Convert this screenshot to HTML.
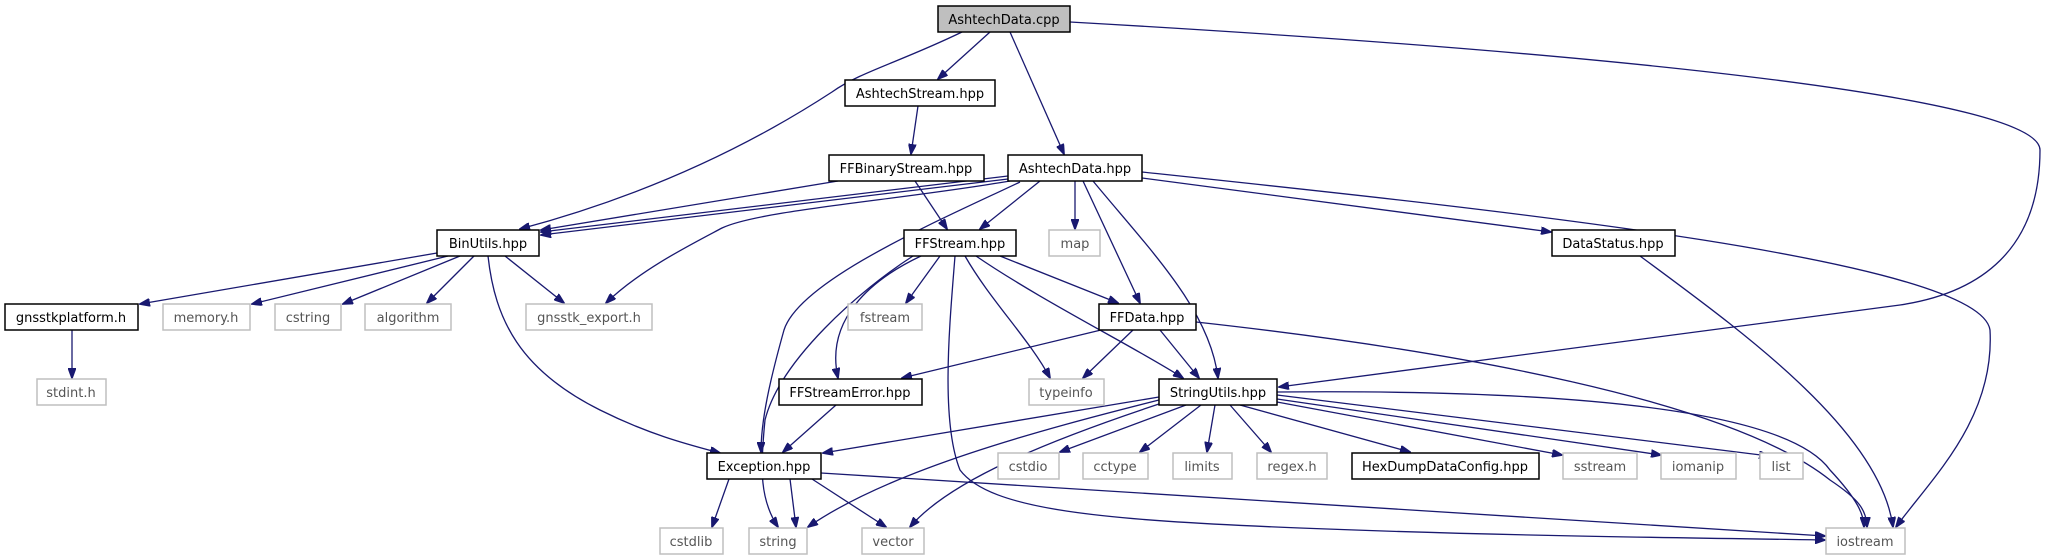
<!DOCTYPE html>
<html><head><meta charset="utf-8"><style>
html,body{margin:0;padding:0;background:#fff;width:2048px;height:560px;overflow:hidden}
svg{display:block}
text{font-family:"DejaVu Sans","Liberation Sans",sans-serif;font-size:13px;fill:#000}
.e{fill:none;stroke:#191970;stroke-width:1.3;marker-end:url(#a)}
.d{fill:#fff;stroke:#000;stroke-width:1.5}
.l{fill:#fff;stroke:#bfbfbf;stroke-width:1.5}
.lt{fill:#555}
</style></head><body>
<svg width="2048" height="560" viewBox="0 0 2048 560" xmlns="http://www.w3.org/2000/svg">
<defs><marker id="a" markerWidth="11" markerHeight="8" refX="10" refY="4" orient="auto" markerUnits="userSpaceOnUse"><polygon points="0,0 11,4 0,8" fill="#191970" stroke="#191970"/></marker></defs>

<!-- edges -->
<path class="e" d="M962,32 C900,62 860,72 832,92 C720,165 610,205 520,229"/>
<path class="e" d="M990,32 L938,79"/>
<path class="e" d="M1010,32 L1064,154"/>
<path class="e" d="M1070,22 C1650,55 2040,100 2040,150 C2040,250 1980,293 1900,305 L1279,387"/>
<path class="e" d="M918,106 L911,154"/>
<path class="e" d="M838,181 L541,230"/>
<path class="e" d="M915,181 L947,229"/>
<path class="e" d="M1008,176 L541,232"/>
<path class="e" d="M1008,179 L541,235"/>
<path class="e" d="M1010,181 C900,200 760,210 722,228 C690,245 640,270 606,303"/>
<path class="e" d="M1020,182 C940,220 800,280 784,330 C770,380 761,420 761,452"/>
<path class="e" d="M1040,181 L980,229"/>
<path class="e" d="M1075,181 L1075,229"/>
<path class="e" d="M1083,181 L1140,303"/>
<path class="e" d="M1093,181 C1150,250 1210,310 1218,378"/>
<path class="e" d="M1142,178 L1551,232"/>
<path class="e" d="M1142,172 C1500,210 1980,260 1990,330 C1995,420 1930,480 1896,527"/>
<path class="e" d="M437,253 L140,304"/>
<path class="e" d="M448,256 L252,304"/>
<path class="e" d="M460,256 L343,304"/>
<path class="e" d="M474,256 L427,303"/>
<path class="e" d="M505,256 L564,303"/>
<path class="e" d="M488,256 C495,320 520,370 600,410 C650,435 690,445 720,453"/>
<path class="e" d="M72,330 L72,378"/>
<path class="e" d="M921,256 C870,280 825,320 838,378"/>
<path class="e" d="M913,256 C860,290 780,360 765,420 C760,470 760,500 778,527"/>
<path class="e" d="M940,256 L906,303"/>
<path class="e" d="M965,256 C990,300 1030,340 1050,378"/>
<path class="e" d="M1000,256 L1118,303"/>
<path class="e" d="M976,256 C1040,300 1140,350 1183,378"/>
<path class="e" d="M955,256 C950,320 940,420 960,470 C990,510 1100,520 1300,528 C1500,536 1700,538 1825,540"/>
<path class="e" d="M836,405 L783,452"/>
<path class="e" d="M1101,330 L902,378"/>
<path class="e" d="M1133,330 L1083,378"/>
<path class="e" d="M1160,330 L1199,378"/>
<path class="e" d="M1196,322 C1450,350 1730,400 1830,480 C1860,500 1866,510 1867,527"/>
<path class="e" d="M1159,397 L823,453"/>
<path class="e" d="M1159,400 C1040,430 890,470 808,527"/>
<path class="e" d="M1162,403 C1050,440 950,480 910,527"/>
<path class="e" d="M1186,405 L1060,452"/>
<path class="e" d="M1201,405 L1140,452"/>
<path class="e" d="M1215,405 L1207,452"/>
<path class="e" d="M1230,405 L1271,452"/>
<path class="e" d="M1240,405 L1410,452"/>
<path class="e" d="M1277,402 L1562,455"/>
<path class="e" d="M1277,399 L1661,455"/>
<path class="e" d="M1277,395 L1769,456"/>
<path class="e" d="M1277,392 C1500,390 1780,400 1830,470 C1858,500 1864,515 1864,527"/>
<path class="e" d="M821,473 L1825,536"/>
<path class="e" d="M729,479 L712,527"/>
<path class="e" d="M790,479 L796,527"/>
<path class="e" d="M812,479 L886,527"/>
<path class="e" d="M1640,256 C1740,330 1880,430 1893,527"/>

<!-- nodes -->
<g>
<rect x="938" y="6" width="132" height="26" fill="#bfbfbf" stroke="#000" stroke-width="1.5"/><text x="1004" y="24" text-anchor="middle">AshtechData.cpp</text>
<rect class="d" x="845" y="80" width="150" height="26"/><text x="920" y="98" text-anchor="middle">AshtechStream.hpp</text>
<rect class="d" x="829" y="155" width="155" height="26"/><text x="906" y="173" text-anchor="middle">FFBinaryStream.hpp</text>
<rect class="d" x="1008" y="155" width="134" height="26"/><text x="1075" y="173" text-anchor="middle">AshtechData.hpp</text>
<rect class="d" x="437" y="230" width="102" height="26"/><text x="488" y="248" text-anchor="middle">BinUtils.hpp</text>
<rect class="d" x="904" y="230" width="112" height="26"/><text x="960" y="248" text-anchor="middle">FFStream.hpp</text>
<rect class="l" x="1049" y="230" width="51" height="26"/><text class="lt" x="1075" y="248" text-anchor="middle">map</text>
<rect class="d" x="1552" y="230" width="123" height="26"/><text x="1613" y="248" text-anchor="middle">DataStatus.hpp</text>
<rect class="d" x="5" y="304" width="133" height="26"/><text x="71" y="322" text-anchor="middle">gnsstkplatform.h</text>
<rect class="l" x="163" y="304" width="87" height="26"/><text class="lt" x="206" y="322" text-anchor="middle">memory.h</text>
<rect class="l" x="275" y="304" width="66" height="26"/><text class="lt" x="308" y="322" text-anchor="middle">cstring</text>
<rect class="l" x="365" y="304" width="86" height="26"/><text class="lt" x="408" y="322" text-anchor="middle">algorithm</text>
<rect class="l" x="526" y="304" width="126" height="26"/><text class="lt" x="589" y="322" text-anchor="middle">gnsstk_export.h</text>
<rect class="l" x="848" y="304" width="74" height="26"/><text class="lt" x="885" y="322" text-anchor="middle">fstream</text>
<rect class="d" x="1099" y="304" width="97" height="26"/><text x="1147" y="322" text-anchor="middle">FFData.hpp</text>
<rect class="l" x="37" y="379" width="69" height="26"/><text class="lt" x="71" y="397" text-anchor="middle">stdint.h</text>
<rect class="d" x="779" y="379" width="143" height="26"/><text x="850" y="397" text-anchor="middle">FFStreamError.hpp</text>
<rect class="l" x="1029" y="379" width="75" height="26"/><text class="lt" x="1066" y="397" text-anchor="middle">typeinfo</text>
<rect class="d" x="1159" y="379" width="118" height="26"/><text x="1218" y="397" text-anchor="middle">StringUtils.hpp</text>
<rect class="d" x="707" y="453" width="114" height="26"/><text x="764" y="471" text-anchor="middle">Exception.hpp</text>
<rect class="l" x="998" y="453" width="61" height="26"/><text class="lt" x="1028" y="471" text-anchor="middle">cstdio</text>
<rect class="l" x="1083" y="453" width="65" height="26"/><text class="lt" x="1115" y="471" text-anchor="middle">cctype</text>
<rect class="l" x="1173" y="453" width="59" height="26"/><text class="lt" x="1202" y="471" text-anchor="middle">limits</text>
<rect class="l" x="1257" y="453" width="70" height="26"/><text class="lt" x="1292" y="471" text-anchor="middle">regex.h</text>
<rect class="d" x="1352" y="453" width="187" height="26"/><text x="1445" y="471" text-anchor="middle">HexDumpDataConfig.hpp</text>
<rect class="l" x="1563" y="453" width="74" height="26"/><text class="lt" x="1600" y="471" text-anchor="middle">sstream</text>
<rect class="l" x="1661" y="453" width="75" height="26"/><text class="lt" x="1698" y="471" text-anchor="middle">iomanip</text>
<rect class="l" x="1760" y="453" width="43" height="26"/><text class="lt" x="1781" y="471" text-anchor="middle">list</text>
<rect class="l" x="660" y="528" width="63" height="26"/><text class="lt" x="691" y="546" text-anchor="middle">cstdlib</text>
<rect class="l" x="749" y="528" width="58" height="26"/><text class="lt" x="778" y="546" text-anchor="middle">string</text>
<rect class="l" x="862" y="528" width="62" height="26"/><text class="lt" x="893" y="546" text-anchor="middle">vector</text>
<rect class="l" x="1826" y="528" width="79" height="26"/><text class="lt" x="1865" y="546" text-anchor="middle">iostream</text>
</g>
</svg>
</body></html>
